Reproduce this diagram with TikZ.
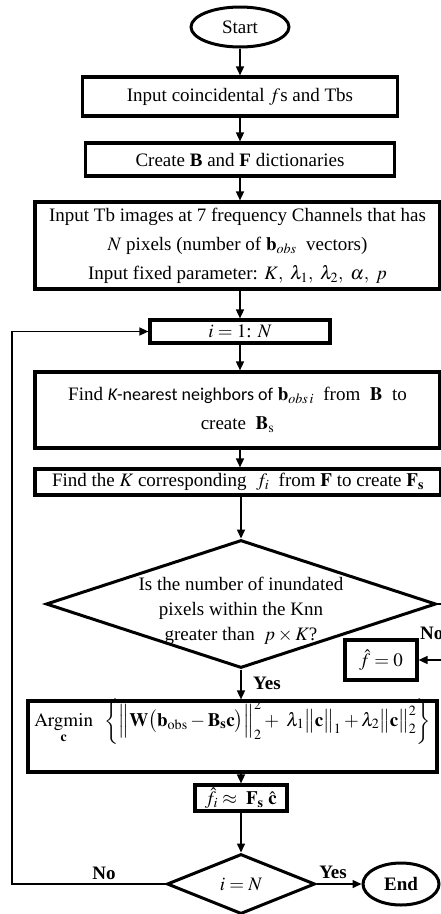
\documentclass[tikz,border=0pt]{standalone}
\usepackage{mathptmx}
\usepackage[no-math]{fontspec}
\setmainfont{Liberation Serif}
\newfontfamily\calibrifont{Carlito}
\usetikzlibrary{shapes.geometric,arrows.meta}

\begin{document}
\begin{tikzpicture}[x=1pt,y=-1pt,
    font=\fontsize{19}{23}\selectfont,
    box/.style={rectangle,draw,line width=3.2pt,inner sep=0pt,align=center},
    term/.style={ellipse,draw,line width=3pt,inner sep=0pt},
    decision/.style={diamond,draw,line width=3pt,inner sep=0pt},
    arr/.style={-{Triangle[length=9pt,width=8pt]},line width=1.5pt},
    lbl/.style={font=\fontsize{19}{23}\selectfont\bfseries,inner sep=0pt}]
\useasboundingbox (0,0) rectangle (441,914);
\node[term,minimum width=98pt,minimum height=40pt] (start) at (240,27) {Start};
\node[box,minimum width=315pt,minimum height=39pt] (b1) at (240,96.5) {Input coincidental $f$s and Tbs};
\node[box,minimum width=309pt,minimum height=33pt] (b2) at (240,159.5) {Create \textbf{B} and \textbf{F} dictionaries};
\node[box,minimum width=405pt,minimum height=87pt] (b3) at (237.5,245.5) {Input Tb images at 7 frequency Channels that has\\[6pt]
    $N$ pixels (number of $\mathbf{b}_{obs}$\ \ vectors)\\[6pt]
    Input fixed parameter: $K,\ \lambda_1,\ \lambda_2,\ \alpha,\ p$};
\node[box,minimum width=180pt,minimum height=23pt] (ib) at (240,331.5) {$i = 1$: $N$};
\node[box,minimum width=405pt,minimum height=76pt] (b4) at (237.5,410) {Find {\calibrifont\fontsize{18}{23}\selectfont\itshape K}{\calibrifont\fontsize{18}{23}\selectfont -nearest neighbors of}\
    $\mathbf{b}_{obs\,i}$\ \ from\ \ $\mathbf{B}$\ \ to\\[6pt] create\ \ $\mathbf{B}_{\mathrm{s}}$};
\node[box,minimum width=406pt,minimum height=26pt] (b5) at (238,482) {Find the $K$ corresponding\ \ $f_i$\ \ from $\mathbf{F}$ to create $\mathbf{F}_{\mathbf{s}}$};
\node[decision,minimum width=390pt,minimum height=128pt] (d1) at (241,604) {};
\node[align=center,inner sep=0pt] (d1txt) at (241,611) {Is the number of inundated\\[2pt]
    pixels within the Knn\\[2pt] greater than\ \ $p\times K$?};
\node[box,minimum width=72pt,minimum height=40pt] (f0) at (381,660) {$\hat{f} = 0$};
\node[box,minimum width=409pt,text height=25pt,text depth=46pt] (arg) at (232.5,736.5)
    {$\mathop{\mathrm{Argmin}}\limits_{\mathbf{c}}\ \ \bigg\{\Big\|\mathbf{W}\big(\mathbf{b}_{\mathrm{obs}}-\mathbf{B}_{\mathbf{s}}\mathbf{c}\big)\Big\|_2^2+\ \lambda_1\big\|\mathbf{c}\big\|_1+\lambda_2\big\|\mathbf{c}\big\|_2^2\bigg\}$};
\node[box,minimum width=92pt,minimum height=26pt] (fi) at (241,798) {$\hat{f}_i \approx\ \mathbf{F}_{\mathbf{s}}\ \hat{\mathbf{c}}$};
\node[decision,minimum width=148pt,minimum height=60pt] (d2) at (241,884) {};
\node[inner sep=0pt] (d2txt) at (241,884) {$i = N$};
\node[term,minimum width=76pt,minimum height=42pt,font=\fontsize{19}{23}\selectfont\bfseries] (end) at (401,884) {End};
\coordinate (lp) at (12,884);
\coordinate (nr) at (452,604);
% main flow
\draw[arr] (start) -- (b1);
\draw[arr] (b1) -- (b2);
\draw[arr] (b2) -- (b2 |- b3.north);
\draw[arr] (ib |- b3.south) -- (ib);
\draw[arr] (ib) -- (ib |- b4.north);
\draw[arr] (ib |- b4.south) -- (ib |- b5.north);
\draw[arr] (d1 |- b5.south) -- (d1);
\draw[arr] (d1) -- (d1 |- arg.north);
\draw[arr] (fi |- arg.south) -- (fi);
\draw[arr] (fi) -- (d2);
\draw[arr] (d2) -- (end);
% branches
\draw[arr] (d2.west) -- (lp) |- (ib.west);
\draw[arr] (d1.east) -- (nr) |- (f0.east);
\node[lbl,anchor=west] (yes1) at (253,683) {Yes};
\node[lbl,anchor=west] (no1) at (420,633) {No};
\node[lbl] (no2) at (104,873) {No};
\node[lbl] (yes2) at (333,872) {Yes};
\end{tikzpicture}
\end{document}
